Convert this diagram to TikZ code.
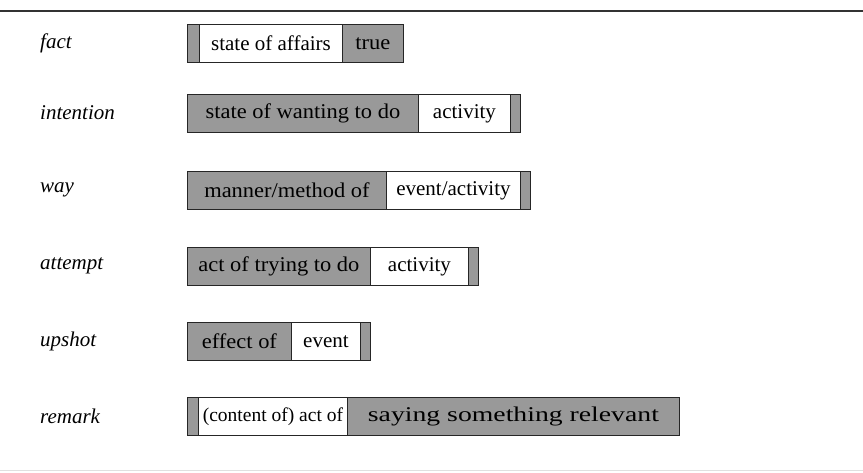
\documentclass[tikz,border=0pt]{standalone}
\usepackage{fontspec}
\setmainfont{Liberation Serif}
\definecolor{shade}{gray}{0.6}
\tikzset{
  seg/.style={draw=black!85, line width=0.9pt, minimum height=38pt, inner sep=0pt,
    anchor=north west, font=\fontsize{21}{24}\selectfont},
  graybox/.style={seg, fill=shade, font=\fontsize{21}{24}\selectfont\addfontfeature{FakeStretch=1.07}},
  widegray/.style={seg, fill=shade, font=\fontsize{21}{24}\selectfont\addfontfeature{FakeStretch=1.32}},
  whitebox/.style={seg, fill=white},
  lbl/.style={anchor=west, inner sep=0pt, font=\fontsize{21}{24}\selectfont\itshape},
  rule/.style={draw=black!80, line width=1.2pt}
}
\begin{document}
\begin{tikzpicture}[x=1pt, y=-1pt]
\useasboundingbox (0,0) rectangle (863,472);
\coordinate (tl) at (0,11);
\coordinate (tr) at (863,11);
\draw[rule] (tl) -- (tr);
\coordinate (bl) at (0,470);
\coordinate (br) at (863,470);
\draw[black!12, line width=0.6pt] (bl) -- (br);

% fact
\node[lbl] (lfact) at (40,43) {fact};
\node[graybox, minimum width=12pt] (fa) at (187,24) {};
\node[whitebox, minimum width=143pt] (fb) at (199,24) {state of affairs};
\node[graybox, minimum width=61pt] (fc) at (342,24) {true};

% intention
\node[lbl] (lint) at (40,113) {intention};
\node[graybox, minimum width=231pt] (ia) at (187,94) {state of wanting to do};
\node[whitebox, minimum width=92pt] (ib) at (418,94) {activity};
\node[graybox, minimum width=10pt] (ic) at (510,94) {};

% way
\node[lbl] (lway) at (40,190) {way};
\node[graybox, minimum width=199pt] (wa) at (187,171) {manner/method of};
\node[whitebox, minimum width=134pt] (wb) at (386,171) {event/activity};
\node[graybox, minimum width=10pt] (wc) at (520,171) {};

% attempt
\node[lbl] (latt) at (40,266) {attempt};
\node[graybox, minimum width=183pt] (aa) at (187,247) {act of trying to do};
\node[whitebox, minimum width=98pt] (ab) at (370,247) {activity};
\node[graybox, minimum width=10pt] (ac) at (468,247) {};

% upshot
\node[lbl] (lup) at (40,341) {upshot};
\node[graybox, minimum width=104pt] (ua) at (187,322) {effect of};
\node[whitebox, minimum width=69pt] (ub) at (291,322) {event};
\node[graybox, minimum width=10pt] (uc) at (360,322) {};

% remark
\node[lbl] (lrem) at (40,416) {remark};
\node[graybox, minimum width=11pt] (ra) at (187,397) {};
\node[whitebox, minimum width=149pt, font=\fontsize{19.5}{24}\selectfont] (rb) at (198,397) {(content of) act of};
\node[widegray, minimum width=332pt] (rc) at (347,397) {saying something relevant};
\end{tikzpicture}
\end{document}
